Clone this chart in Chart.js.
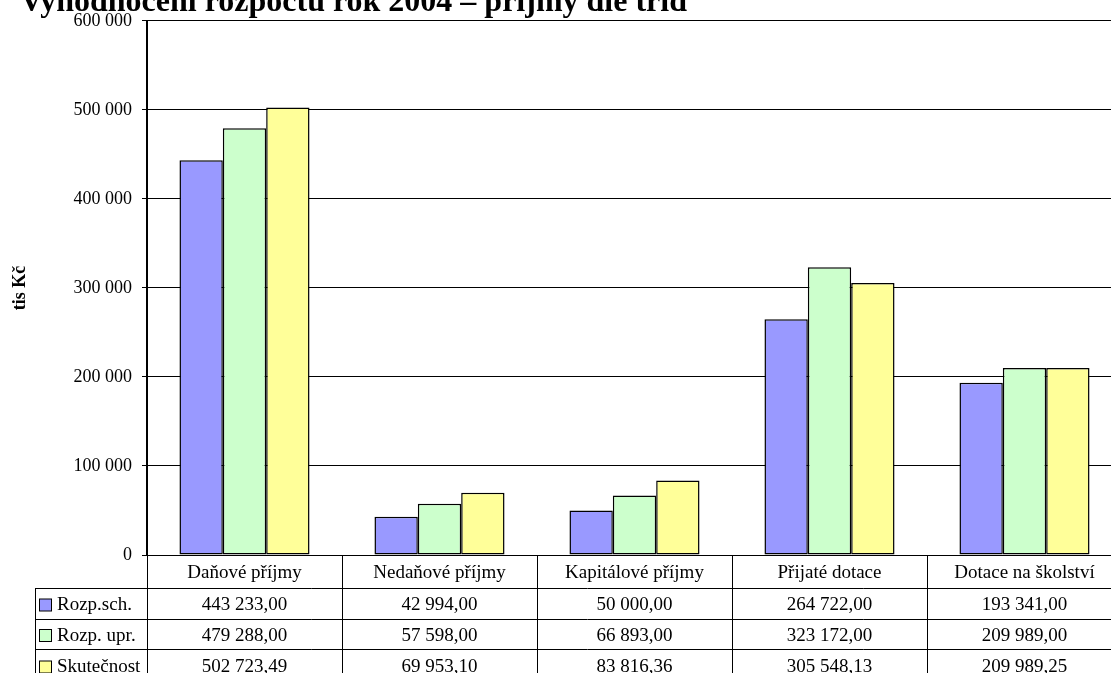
<!DOCTYPE html>
<html>
<head>
<meta charset="utf-8">
<script src="https://cdn.jsdelivr.net/npm/chart.js@4.4.1/dist/chart.umd.min.js"></script>
<style>
  html, body { margin: 0; padding: 0; background: #fff; overflow: hidden; }
  #wrap { width: 1111px; height: 673px; overflow: hidden; }
</style>
</head>
<body>
<div id="wrap"><canvas id="myChart" width="1140" height="673"></canvas></div>
<script>
const titulek = 'Vyhodnocení rozpočtu rok 2004 – příjmy dle tříd';
const kategorie = ['Daňové příjmy', 'Nedaňové příjmy', 'Kapitálové příjmy', 'Přijaté dotace', 'Dotace na školství'];
const rozpSch = [443233.00, 42994.00, 50000.00, 264722.00, 193341.00];
const rozpUpr = [479288.00, 57598.00, 66893.00, 323172.00, 209989.00];
const skutecnost = [502723.49, 69953.10, 83816.36, 305548.13, 209989.25];
const nazvyRad = ['Rozp.sch.', 'Rozp. upr.', 'Skutečnost'];
const barvy = ['#9999FF', '#CCFFCC', '#FFFF99'];

const fmtTick = v => String(v).replace(/\B(?=(\d{3})+(?!\d))/g, ' ');
const fmtCell = v => {
  const [a, b] = v.toFixed(2).split('.');
  return fmtTick(Number(a)) + ',' + b;
};

// tabulka dat pod grafem + nadpis
const tabulka = {
  id: 'tabulka',
  afterDraw(chart) {
    const ctx = chart.ctx;
    const x = chart.scales.x;
    const area = chart.chartArea;
    const radky = [rozpSch, rozpUpr, skutecnost];
    const y0 = area.bottom;
    const yH = 588;
    const yR = [588, 619, 649, 682];
    const leftT = 35;
    const right = 1140;

    ctx.save();
    ctx.strokeStyle = '#000';
    ctx.lineWidth = 1;
    // svisle cary
    for (let i = 1; i <= kategorie.length; i++) {
      const px = Math.round(x.getPixelForValue(i - 0.5)) + 0.5;
      ctx.beginPath(); ctx.moveTo(px, y0); ctx.lineTo(px, 682); ctx.stroke();
    }
    ctx.beginPath(); ctx.moveTo(leftT + 0.5, yH); ctx.lineTo(leftT + 0.5, 682); ctx.stroke();
    ctx.beginPath(); ctx.moveTo(area.left + 0.5, y0); ctx.lineTo(area.left + 0.5, 682); ctx.stroke();
    // vodorovne cary
    for (let r = 0; r < 3; r++) {
      const py = yR[r] + 0.5;
      ctx.beginPath(); ctx.moveTo(leftT, py); ctx.lineTo(right, py); ctx.stroke();
    }

    ctx.fillStyle = '#000';
    ctx.font = '19px "Liberation Serif"';
    ctx.textAlign = 'center';
    ctx.textBaseline = 'middle';
    kategorie.forEach((k, i) => {
      ctx.fillText(k, x.getPixelForValue(i), (y0 + yH) / 2 + 2);
    });
    radky.forEach((hodnoty, r) => {
      const cy = (yR[r] + yR[r + 1]) / 2 + 2;
      hodnoty.forEach((v, i) => {
        ctx.fillText(fmtCell(v), x.getPixelForValue(i), cy);
      });
      ctx.fillStyle = barvy[r];
      ctx.fillRect(39.5, cy - 6.5, 12, 12);
      ctx.strokeRect(39.5, cy - 6.5, 12, 12);
      ctx.fillStyle = '#000';
      ctx.textAlign = 'left';
      ctx.fillText(nazvyRad[r], 57, cy);
      ctx.textAlign = 'center';
    });

    ctx.font = 'bold 32px "Liberation Serif"';
    ctx.textAlign = 'left';
    ctx.textBaseline = 'alphabetic';
    ctx.fillText(titulek, 20, 11);
    ctx.restore();
  }
};

new Chart(document.getElementById('myChart'), {
  type: 'bar',
  data: {
    labels: kategorie,
    datasets: [
      { label: nazvyRad[0], data: rozpSch, backgroundColor: barvy[0] },
      { label: nazvyRad[1], data: rozpUpr, backgroundColor: barvy[1] },
      { label: nazvyRad[2], data: skutecnost, backgroundColor: barvy[2] }
    ].map(d => Object.assign(d, { borderColor: '#000', borderWidth: 1.5, borderSkipped: false }))
  },
  options: {
    responsive: false,
    animation: false,
    events: [],
    layout: { padding: { top: 16, right: 18, bottom: 118, left: 0 } },
    datasets: { bar: { categoryPercentage: 0.667, barPercentage: 1 } },
    plugins: { legend: { display: false }, tooltip: { enabled: false }, title: { display: false } },
    scales: {
      x: { display: false },
      y: {
        min: 0,
        max: 600000,
        afterFit(scale) { scale.width = 147; },
        ticks: {
          stepSize: 100000,
          padding: 10,
          color: '#000',
          font: { family: 'Liberation Serif', size: 18 },
          callback: v => fmtTick(v)
        },
        grid: { color: '#000', lineWidth: 1, tickLength: 5 },
        border: { color: '#000', width: 2 },
        title: {
          display: true,
          text: 'tis Kč',
          color: '#000',
          font: { family: 'Liberation Serif', size: 18, weight: 'bold' },
          padding: { top: 10, bottom: 0 }
        }
      }
    }
  },
  plugins: [tabulka]
});
</script>
</body>
</html>
